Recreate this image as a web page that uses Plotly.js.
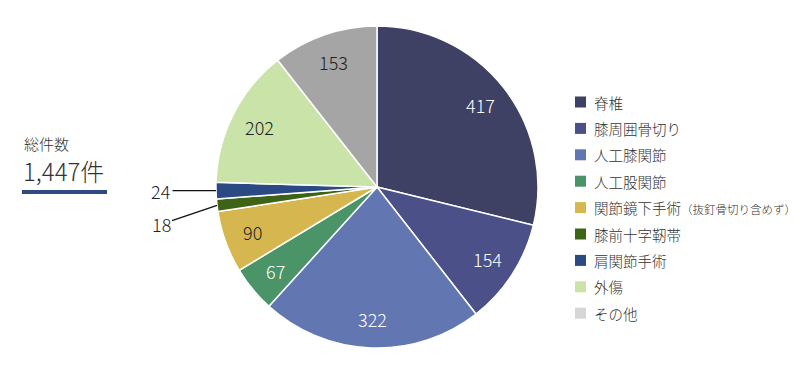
<!DOCTYPE html>
<html><head><meta charset="utf-8">
<script src="https://cdn.plot.ly/plotly-3.0.1.min.js"></script>
<style>html,body{margin:0;padding:0;background:#fff}#chart{width:800px;height:375px}</style>
</head><body><div id="chart"></div>
<script>
const categories = ['脊椎','膝周囲骨切り','人工膝関節','人工股関節','関節鏡下手術','膝前十字靭帯','肩関節手術','外傷','その他'];
const categoryNotes = ['','','','','（抜釘骨切り含めず）','','','',''];
const values = [417,154,322,67,90,18,24,202,153];
const sliceColors = ['#3e4163','#4b5089','#6277b1','#4a9467','#d6b64f','#3d6317','#2b4a84','#c9e3a8','#a5a5a5'];
const legendColors = ['#3e4163','#4b5089','#6277b1','#4a9467','#d6b64f','#3d6317','#2b4a84','#c9e3a8','#d6d6d6'];
const textColors = ['#ffffff','#ffffff','#ffffff','#ffffff','#222222','#222222','#222222','#222222','#222222'];
const outsideLabel = [false,false,false,false,false,true,true,false,false];
const totalLabel = '総件数';
const unit = '件';

const W = 800, H = 375;
const cx = 377, cy = 187, R = 161;
const labelRadius = 0.82;
const font = '"Noto Sans CJK JP", "Noto Sans", sans-serif';

const total = values.reduce((a,b)=>a+b,0);

const trace = {
  type: 'pie',
  values: values,
  labels: categories,
  sort: false,
  direction: 'clockwise',
  rotation: 0,
  marker: {colors: sliceColors, line: {color: '#ffffff', width: 1.5}},
  textinfo: 'none',
  textposition: 'none',
  hoverinfo: 'label+value',
  showlegend: false,
  domain: {x: [(cx-R)/W, (cx+R)/W], y: [(H-cy-R)/H, (H-cy+R)/H]}
};

const shapes = [];
const annotations = [];

// custom legend
const lgX = 575, lgY0 = 102, lgStep = 26.4, sw = 11;
categories.forEach((c,i) => {
  const yc = lgY0 + i*lgStep;
  shapes.push({type:'rect', xref:'paper', yref:'paper',
    x0: lgX/W, x1: (lgX+sw)/W, y0: 1-(yc+sw/2)/H, y1: 1-(yc-sw/2)/H,
    fillcolor: legendColors[i], line:{width:0}});
  const note = categoryNotes[i] ? '<span style="font-size:11.5px">'+categoryNotes[i]+'</span>' : '';
  annotations.push({xref:'paper', yref:'paper', x:(lgX+sw+6)/W, y:1-yc/H,
    xanchor:'left', yanchor:'middle', showarrow:false,
    text: c + note, font:{family:font, size:14.5, color:'#333333', weight:300}});
});

// slice value labels
let cum = 0;
values.forEach((v,i) => {
  const mid = (cum + v/2)/total*2*Math.PI;
  cum += v;
  if (!outsideLabel[i]) {
    const px = cx + labelRadius*R*Math.sin(mid), py = cy - labelRadius*R*Math.cos(mid);
    annotations.push({xref:'paper', yref:'paper', x: px/W, y: 1-py/H, showarrow:false,
      xanchor:'center', yanchor:'middle', text:String(v),
      font:{family:font, size:18, color:textColors[i], weight:300}});
  } else {
    const px = cx + R*Math.sin(mid), py = cy - R*Math.cos(mid);
    const tx = 161, ty = (i === 6) ? py : py + 19;
    annotations.push({xref:'paper', yref:'paper', x: px/W, y: 1-py/H,
      ax: tx - px, ay: ty - py, showarrow:true, arrowhead:0, arrowwidth:1.3,
      arrowcolor:'#111', standoff:0, text:String(v),
      font:{family:font, size:18, color:'#222', weight:300}});
  }
});

// total block
annotations.push({xref:'paper', yref:'paper', x:22/W, y:1-143/H, xanchor:'left', yanchor:'middle',
  showarrow:false, text: totalLabel, font:{family:font, size:15, color:'#333', weight:300}});
annotations.push({xref:'paper', yref:'paper', x:21/W, y:1-170/H, xanchor:'left', yanchor:'middle',
  showarrow:false, text: total.toLocaleString('en-US') + unit, font:{family:font, size:24, color:'#333', weight:300}});
shapes.push({type:'rect', xref:'paper', yref:'paper', x0:22/W, x1:107/W, y0:1-194/H, y1:1-190/H,
  fillcolor:'#2e4a7e', line:{width:0}});

Plotly.newPlot('chart', [trace], {
  width: W, height: H,
  margin: {l:0, r:0, t:0, b:0},
  paper_bgcolor: '#ffffff',
  showlegend: false,
  shapes: shapes,
  annotations: annotations
}, {displayModeBar: false, staticPlot: true});
</script></body></html>
